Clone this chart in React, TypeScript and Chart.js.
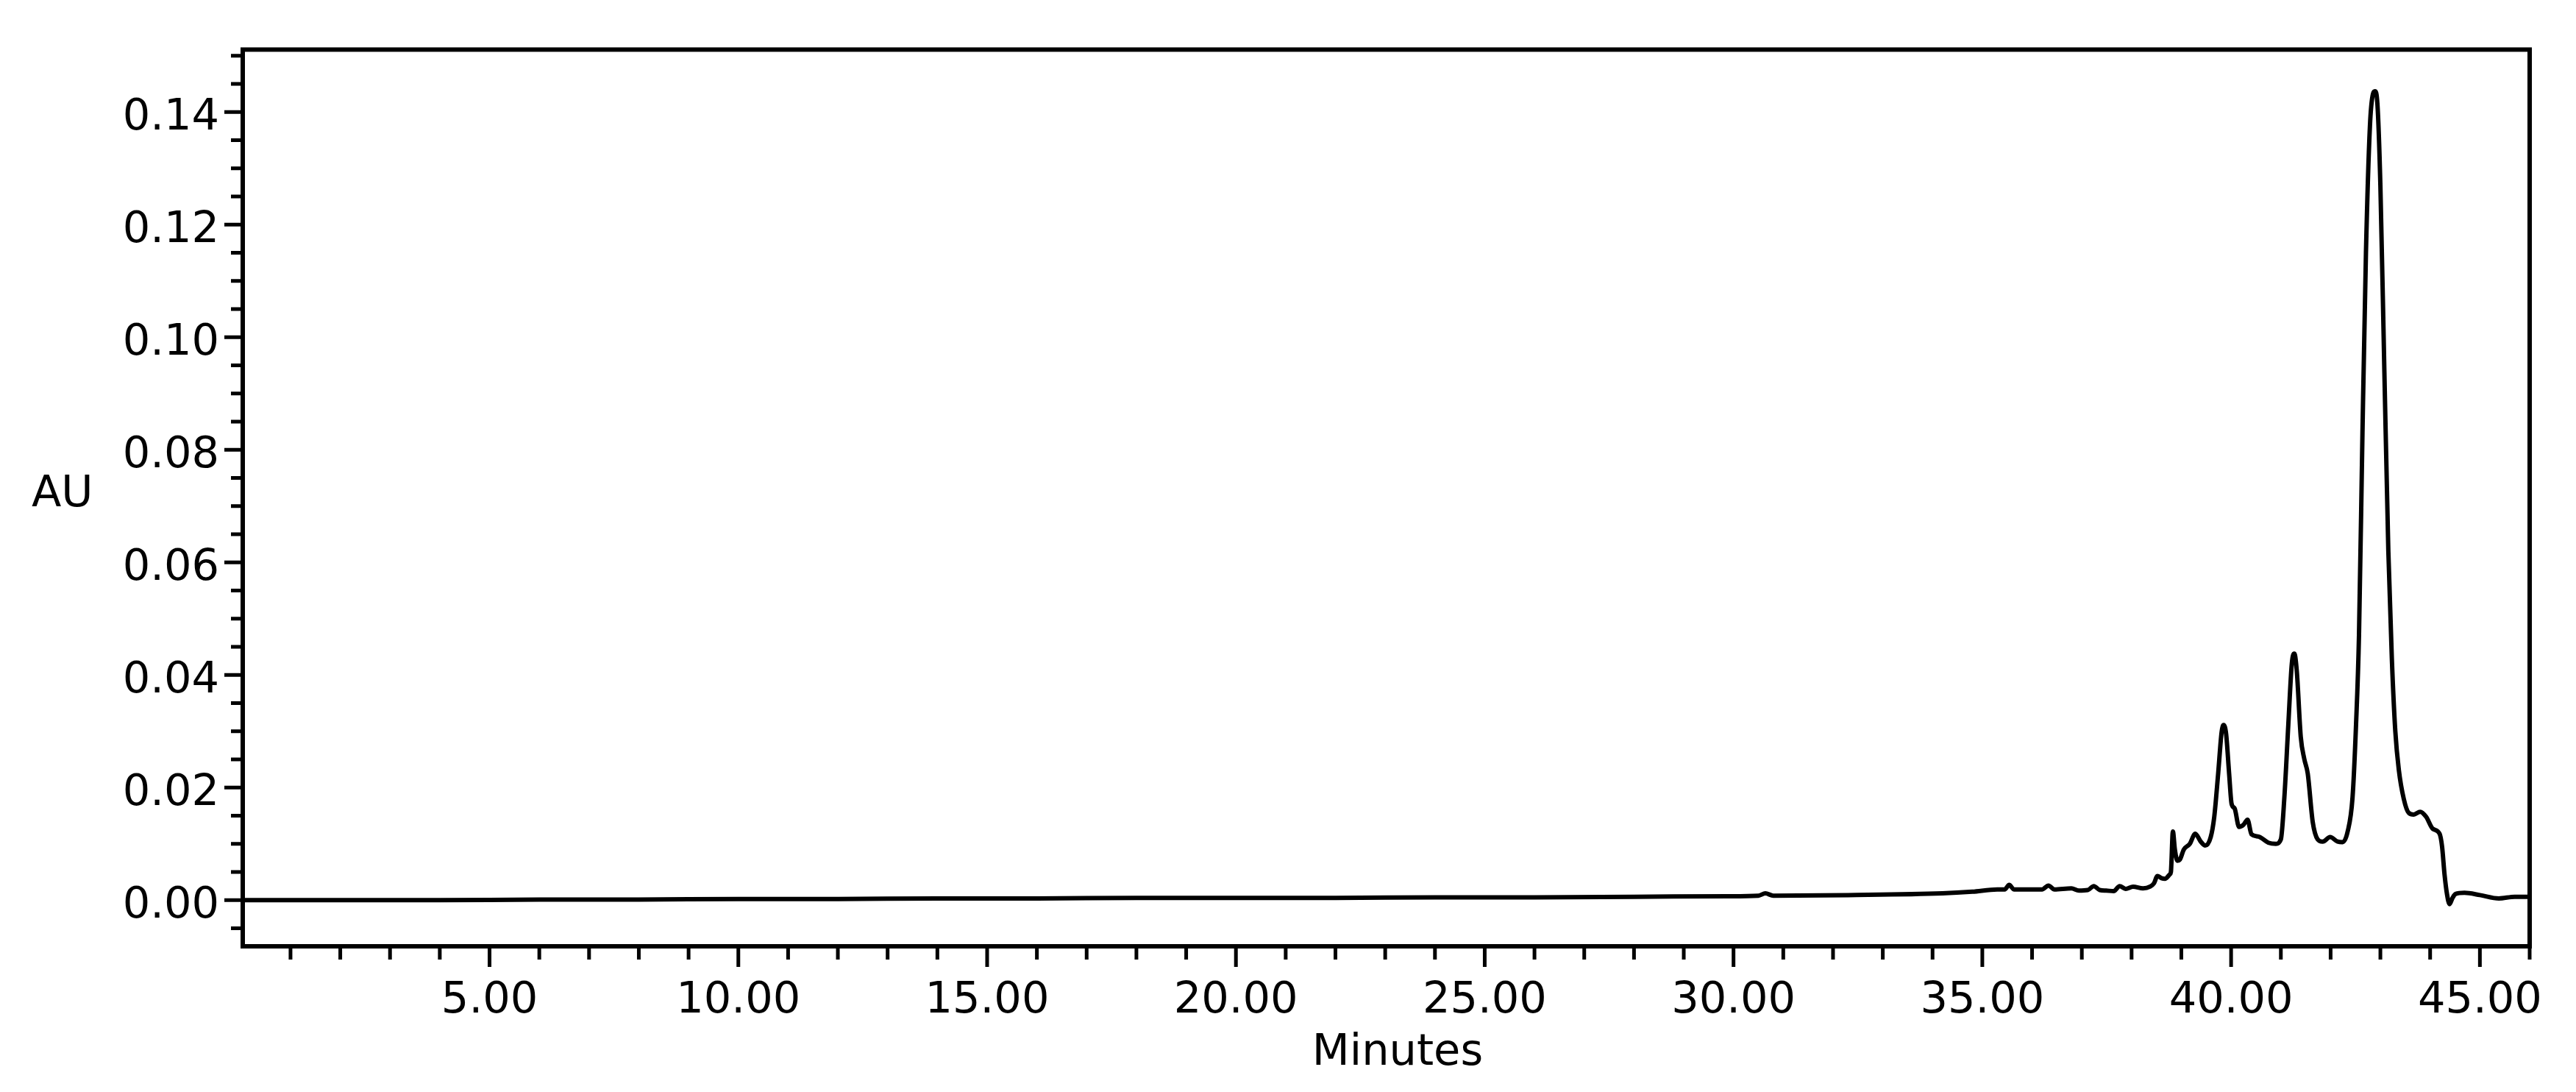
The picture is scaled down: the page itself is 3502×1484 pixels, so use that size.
import React, { useEffect, useRef } from "react";
import { Chart, registerables } from "chart.js";

Chart.register(...registerables);

// Retention time (minutes)
const timeMin = [
  0.04, 2, 4, 6, 8, 10, 12, 14, 16, 18, 20, 22, 24, 26, 28, 29.9,
  30.5, 30.64, 30.8, 32.3, 34.2, 34.8, 35.3, 35.45, 35.54, 35.64,
  36.2, 36.33, 36.45, 36.79, 36.94, 37.12, 37.24, 37.36, 37.49, 37.64,
  37.76, 37.88, 38.03, 38.23, 38.37, 38.45, 38.52, 38.6, 38.67, 38.77,
  38.79, 38.83, 38.87, 38.92, 38.97, 39.05, 39.17, 39.28, 39.39, 39.48,
  39.59, 39.66, 39.74, 39.81, 39.85, 39.9, 39.96, 40.01, 40.07, 40.16,
  40.25, 40.33, 40.41, 40.55, 40.75, 40.9, 41.0, 41.07, 41.15, 41.22,
  41.27, 41.32, 41.4, 41.47, 41.54, 41.64, 41.74, 41.84, 41.99, 42.14,
  42.24, 42.34, 42.44, 42.51, 42.57, 42.64, 42.71, 42.79, 42.85, 42.89,
  42.94, 43.0, 43.08, 43.16, 43.23, 43.3, 43.37, 43.47, 43.57, 43.67,
  43.8, 43.92, 44.05, 44.19, 44.24, 44.29, 44.34, 44.39, 44.45, 44.51,
  44.69, 45.0, 45.38, 45.7, 46.0,
];

// Absorbance (AU)
const absorbanceAU = [
  0.0, 0.0, 0.0, 0.0001, 0.0001, 0.0002, 0.0002, 0.0003, 0.0003, 0.0004, 0.0004, 0.0004, 0.0005, 0.0005, 0.0006, 0.0007,
  0.0008, 0.0012, 0.0008, 0.0009, 0.0012, 0.0015, 0.0019, 0.0019, 0.0027, 0.0019,
  0.0019, 0.0026, 0.0019, 0.0021, 0.0017, 0.0018, 0.0025, 0.0018, 0.0017, 0.0016,
  0.0025, 0.002, 0.0024, 0.0021, 0.0024, 0.003, 0.0043, 0.0039, 0.0038, 0.0046,
  0.005, 0.0122, 0.009, 0.007, 0.0072, 0.009, 0.01, 0.0118, 0.0104, 0.0097,
  0.0112, 0.0147, 0.0225, 0.0299, 0.0311, 0.0295, 0.0225, 0.0171, 0.0163, 0.013,
  0.0134, 0.0143, 0.0117, 0.0113, 0.0102, 0.01, 0.0108, 0.0182, 0.0312, 0.042,
  0.0438, 0.0407, 0.029, 0.0251, 0.0225, 0.0139, 0.0108, 0.0104, 0.0112, 0.0104,
  0.0103, 0.0121, 0.0182, 0.031, 0.047, 0.083, 0.115, 0.1375, 0.1432, 0.1437,
  0.1415, 0.127, 0.094, 0.062, 0.043, 0.03, 0.0232, 0.018, 0.0155, 0.0152,
  0.0157, 0.0148, 0.0127, 0.0118, 0.0095, 0.0045, 0.001, -0.0007, 0.0004, 0.0011,
  0.0013, 0.0009, 0.0003, 0.0006, 0.0006,
];

// Axis ticks
const xMajorTicks = [5, 10, 15, 20, 25, 30, 35, 40, 45];
const xMinorTicks = [
  1, 2, 3, 4, 5, 6, 7, 8, 9, 10, 11, 12, 13, 14, 15, 16, 17, 18, 19, 20, 21, 22, 23,
  24, 25, 26, 27, 28, 29, 30, 31, 32, 33, 34, 35, 36, 37, 38, 39, 40, 41, 42, 43, 44, 45, 46,
];
const yMajorTicks = [0, 0.02, 0.04, 0.06, 0.08, 0.1, 0.12, 0.14];
const yMinorTicks = [
  -0.005, 0, 0.005, 0.01, 0.015, 0.02, 0.025, 0.03, 0.035, 0.04, 0.045, 0.05, 0.055,
  0.06, 0.065, 0.07, 0.075, 0.08, 0.085, 0.09, 0.095, 0.1, 0.105, 0.11, 0.115, 0.12,
  0.125, 0.13, 0.135, 0.14, 0.145, 0.15,
];

const X_MIN = 0.04;
const X_MAX = 46;
const Y_MIN = -0.0082;
const Y_MAX = 0.1511;

const FONT = '"DejaVu Sans", "Liberation Sans", sans-serif';

const isMajor = (list: number[], v: number) => list.some((m) => Math.abs(m - v) < 1e-9);

const framePlugin = {
  id: "frameAndTicks",
  afterDraw(chart: any) {
    const { ctx, chartArea: a, scales } = chart;
    ctx.save();
    ctx.strokeStyle = "#000";
    ctx.lineCap = "butt";
    ctx.lineWidth = 6;
    ctx.strokeRect(a.left, a.top, a.right - a.left, a.bottom - a.top);
    ctx.lineWidth = 5;
    ctx.beginPath();
    for (const v of xMinorTicks) {
      const p = scales.x.getPixelForValue(v);
      const len = isMajor(xMajorTicks, v) ? 28 : 18;
      ctx.moveTo(p, a.bottom);
      ctx.lineTo(p, a.bottom + len);
    }
    for (const v of yMinorTicks) {
      const p = scales.y.getPixelForValue(v);
      const len = isMajor(yMajorTicks, v) ? 25 : 16;
      ctx.moveTo(a.left, p);
      ctx.lineTo(a.left - len, p);
    }
    ctx.stroke();
    ctx.fillStyle = "#000";
    ctx.font = `59px ${FONT}`;
    ctx.textAlign = "left";
    ctx.textBaseline = "alphabetic";
    ctx.fillText("AU", 43, 688);
    ctx.textAlign = "center";
    ctx.fillText("Minutes", 1900, 1447);
    ctx.restore();
  },
};

export default function App() {
  const canvasRef = useRef<HTMLCanvasElement | null>(null);

  useEffect(() => {
    const canvas = canvasRef.current;
    if (!canvas) return;
    const points = timeMin.map((t, i) => ({ x: t, y: absorbanceAU[i] }));
    const chart = new Chart(canvas, {
      type: "line",
      data: {
        datasets: [
          {
            label: "Chromatogram",
            data: points,
            borderColor: "#000",
            borderWidth: 6,
            borderJoinStyle: "round",
            borderCapStyle: "round",
            pointRadius: 0,
            fill: false,
            cubicInterpolationMode: "monotone",
          },
        ],
      },
      options: {
        animation: false,
        responsive: false,
        maintainAspectRatio: false,
        devicePixelRatio: 1,
        layout: { padding: { left: 0, right: 63, top: 61, bottom: 0 } },
        plugins: { legend: { display: false }, tooltip: { enabled: false } },
        scales: {
          x: {
            type: "linear",
            min: X_MIN,
            max: X_MAX,
            grid: { display: false, drawTicks: false },
            border: { display: false },
            afterBuildTicks: (scale: any) => {
              scale.ticks = xMajorTicks.map((v) => ({ value: v }));
            },
            afterFit: (scale: any) => {
              scale.height = 198;
            },
            ticks: {
              autoSkip: false,
              maxRotation: 0,
              minRotation: 0,
              padding: 39,
              color: "#000",
              font: { family: FONT, size: 59 },
              callback: (v: any) => Number(v).toFixed(2),
            },
            title: { display: false, text: "Minutes" },
          },
          y: {
            type: "linear",
            min: Y_MIN,
            max: Y_MAX,
            grid: { display: false, drawTicks: false },
            border: { display: false },
            afterBuildTicks: (scale: any) => {
              scale.ticks = yMajorTicks.map((v) => ({ value: v }));
            },
            afterFit: (scale: any) => {
              scale.width = 330;
            },
            ticks: {
              autoSkip: false,
              padding: 32,
              labelOffset: 8,
              color: "#000",
              font: { family: FONT, size: 59 },
              callback: (v: any) => Number(v).toFixed(2),
            },
          },
        },
      },
      plugins: [framePlugin],
    } as any);
    return () => chart.destroy();
  }, []);

  return (
    <div style={{ position: "fixed", left: 0, top: 0, width: 3502, height: 1484, background: "#fff" }}>
      <canvas ref={canvasRef} width={3502} height={1484} style={{ display: "block" }} />
    </div>
  );
}
